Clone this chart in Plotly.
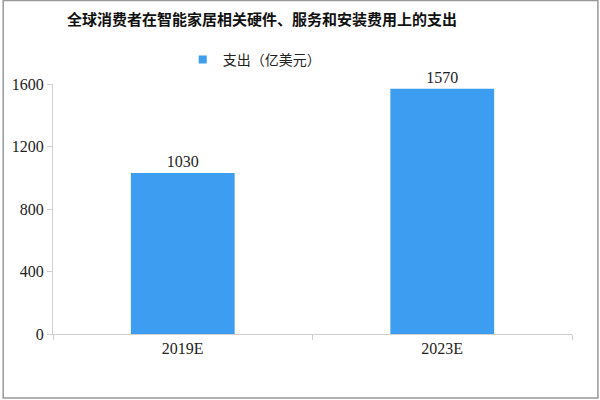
import plotly.graph_objects as go

categories = ["2019E", "2023E"]
values = [1030, 1570]
series_name = "支出（亿美元）"
title_text = "全球消费者在智能家居相关硬件、服务和安装费用上的支出"
y_ticks = [0, 400, 800, 1200, 1600]

L, R, T, B = 51, 28, 84, 66
W, H = 600, 400
pw, ph = W - L - R, H - T - B
BAR_COLOR = "#3d9df0"
NUM_FONT = "Liberation Serif, DejaVu Serif, serif"

fig = go.Figure()
fig.add_trace(go.Bar(
    x=categories, y=values, name=series_name, showlegend=False,
    marker=dict(color=BAR_COLOR, line=dict(width=0)),
    text=[str(v) for v in values], textposition="outside",
    textfont=dict(family=NUM_FONT, size=16, color="#222"),
    cliponaxis=False,
))
# legend entry (small square swatch like the reference)
fig.add_trace(go.Scatter(
    x=[categories[0]], y=[None], mode="markers", name=series_name,
    marker=dict(symbol="square", size=8, color=BAR_COLOR), showlegend=True,
))

fig.update_layout(
    width=W, height=H,
    margin=dict(l=L, r=R, t=T, b=B),
    paper_bgcolor="white", plot_bgcolor="white",
    bargap=0.6,
    showlegend=True,
    title=dict(text="<b>" + title_text + "</b>", x=262 / W, xanchor="center", y=1 - 20 / H, yanchor="middle",
               font=dict(family="Noto Sans CJK SC", size=15, color="#111")),
    legend=dict(orientation="h", x=(253 - L) / pw, xanchor="center", y=1.0 + (84 - 60) / ph, yanchor="middle",
                font=dict(family="Noto Sans CJK SC", size=14, color="#222"),
                itemwidth=30, bgcolor="rgba(0,0,0,0)"),
    xaxis=dict(showline=True, linecolor="#d0d0d0", linewidth=1,
               ticks="outside", tickson="boundaries", ticklen=5, tickcolor="#d0d0d0",
               tickfont=dict(family=NUM_FONT, size=16, color="#222"),
               showgrid=False),
    yaxis=dict(range=[0, 1600], tickvals=y_ticks, showline=True, linecolor="#d0d0d0", linewidth=1,
               ticks="outside", ticklen=5, tickcolor="#d0d0d0", showgrid=False, zeroline=False,
               tickfont=dict(family=NUM_FONT, size=16, color="#222")),
)

fig.add_shape(type="rect", xref="paper", yref="paper",
              x0=-(L - 1) / pw, x1=1 + (R - 2) / pw, y0=-(B - 2) / ph, y1=1 + (T - 0.5) / ph,
              line=dict(color="#999", width=1.5), fillcolor="rgba(0,0,0,0)", layer="below")

fig.write_html("out.html", config={"displayModeBar": False},
               post_script="document.body.style.margin='0';document.body.style.overflow='hidden';")
